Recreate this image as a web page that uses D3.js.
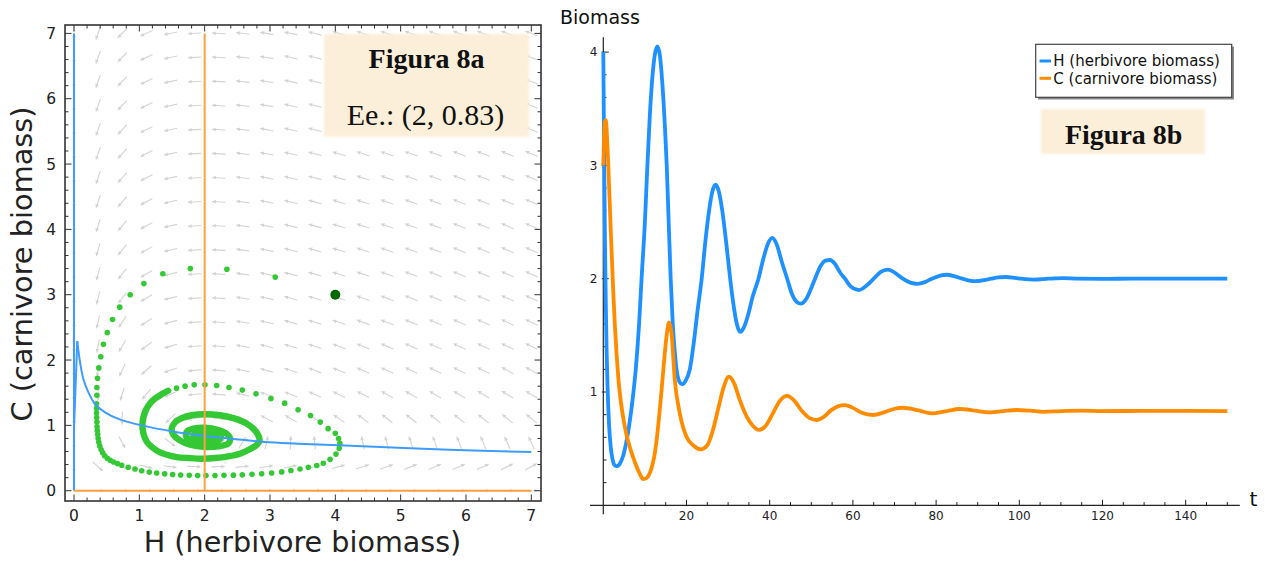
<!DOCTYPE html>
<html>
<head>
<meta charset="utf-8">
<script src="https://cdn.jsdelivr.net/npm/d3@7"></script>
<style>
  html, body { margin: 0; padding: 0; background: #fff; }
  svg { display: block; }
</style>
</head>
<body>
<svg id="fig" width="1265" height="561"></svg>
<script>
// ----------------------------------------------------------------------------
// Data
// ----------------------------------------------------------------------------

// Phase plane (Figura 8a)
const phaseTicks = [0, 1, 2, 3, 4, 5, 6, 7];

// Grid on which the direction field is sampled (same levels on both axes)
const fieldGrid = [0, 0.368, 0.737, 1.105, 1.474, 1.842, 2.211, 2.579, 2.947, 3.316,
                   3.684, 4.053, 4.421, 4.789, 5.158, 5.526, 5.895, 6.263, 6.632, 7];

// Arrow direction (degrees, counter-clockwise from +H) — one row per C level
const fieldAngles = [
  [null, 0, 0, 0, 0, 0, 0, 0, 0, 0, 0, 0, 0, 0, 0, 0, 0, 0, 0, 0],
  [-90, -42, -24, -14, -7, -2, 2, 6, 9, 11, 13, 16, 17, 19, 21, 23, 24, 25, 27, 28],
  [-90, -71, -62, -51, -38, -15, 23, 58, 78, 88, 95, 100, 103, 106, 108, 110, 111, 113, 114, 115],
  [-90, -86, -92, -106, -135, -169, 170, 159, 153, 149, 147, 145, 144, 143, 143, 142, 142, 142, 141, 141],
  [-90, -93, -107, -130, -155, -174, 174, 166, 162, 158, 156, 154, 153, 152, 151, 150, 150, 149, 149, 149],
  [-90, -98, -116, -139, -161, -175, 175, 169, 165, 162, 159, 158, 156, 155, 154, 154, 153, 153, 152, 152],
  [-90, -101, -121, -144, -163, -176, 176, 170, 166, 163, 161, 160, 158, 157, 156, 156, 155, 155, 154, 154],
  [-90, -103, -124, -147, -165, -176, 176, 171, 167, 164, 162, 161, 160, 159, 158, 157, 156, 156, 155, 155],
  [-90, -104, -127, -149, -166, -177, 176, 171, 168, 165, 163, 162, 160, 159, 158, 158, 157, 157, 156, 156],
  [-90, -105, -128, -150, -166, -177, 176, 172, 168, 166, 164, 162, 161, 160, 159, 158, 158, 157, 157, 156],
  [-90, -106, -130, -151, -167, -177, 177, 172, 169, 166, 164, 163, 161, 160, 160, 159, 158, 158, 157, 157],
  [-90, -107, -130, -152, -167, -177, 177, 172, 169, 166, 164, 163, 162, 161, 160, 159, 158, 158, 157, 157],
  [-90, -108, -131, -152, -167, -177, 177, 172, 169, 167, 165, 163, 162, 161, 160, 159, 159, 158, 158, 157],
  [-90, -108, -132, -153, -168, -177, 177, 172, 169, 167, 165, 163, 162, 161, 160, 160, 159, 159, 158, 158],
  [-90, -109, -133, -153, -168, -177, 177, 172, 169, 167, 165, 164, 162, 161, 161, 160, 159, 159, 158, 158],
  [-90, -109, -133, -154, -168, -177, 177, 173, 169, 167, 165, 164, 163, 162, 161, 160, 159, 159, 159, 158],
  [-90, -109, -134, -154, -168, -177, 177, 173, 170, 167, 165, 164, 163, 162, 161, 160, 160, 159, 159, 158],
  [-90, -110, -134, -154, -168, -177, 177, 173, 170, 167, 165, 164, 163, 162, 161, 160, 160, 159, 159, 159],
  [-90, -110, -134, -155, -168, -177, 177, 173, 170, 167, 166, 164, 163, 162, 161, 161, 160, 160, 159, 159],
  [-90, -110, -135, -155, -168, -177, 177, 173, 170, 168, 166, 164, 163, 162, 161, 161, 160, 160, 159, 159]
];

// Herbivore nullcline (dH/dt = 0), curved branch
const nullSpikeH = [0, 0.05];
const nullSpikeC = [0.95, 2.29];
const nullCurveH = [0.05, 0.092, 0.143, 0.219, 0.32, 0.475, 0.68, 1.036, 1.55, 2.0, 2.41, 2.92, 3.43, 4.05, 4.96, 5.98, 7.0];
const nullCurveC = [2.29, 1.97, 1.71, 1.51, 1.33, 1.20, 1.10, 1.0, 0.90, 0.837, 0.796, 0.745, 0.72, 0.695, 0.658, 0.618, 0.592];

// Carnivore nullclines: H = 2 and C = 0
const carnNullH = 2;
const axisMax = 7;

// Initial state of the trajectory
const startPoint = [4, 3];

// Trajectory samples where the dots are still apart (H, C)
const orbitDots = [
  [3.08, 3.27], [2.34, 3.39], [1.78, 3.40], [1.36, 3.32], [1.07, 3.17], [0.86, 3.00],
  [0.70, 2.81], [0.59, 2.62], [0.51, 2.42], [0.45, 2.24], [0.41, 2.05], [0.38, 1.88],
  [0.36, 1.72], [0.35, 1.58], [0.35, 1.46], [0.345, 1.33], [0.345, 1.26], [0.345, 1.19],
  [0.347, 1.12], [0.35, 1.05], [0.353, 0.98], [0.357, 0.92], [0.363, 0.86], [0.37, 0.80],
  [0.38, 0.74], [0.395, 0.685], [0.415, 0.63], [0.44, 0.58], [0.47, 0.535], [0.51, 0.495],
  [0.555, 0.465], [0.605, 0.44], [0.665, 0.415], [0.73, 0.39], [0.83, 0.36], [0.934, 0.332],
  [1.036, 0.305], [1.153, 0.285], [1.266, 0.27], [1.388, 0.258], [1.51, 0.248], [1.633, 0.24],
  [1.765, 0.235], [1.893, 0.232], [2.02, 0.232], [2.158, 0.233], [2.296, 0.235], [2.44, 0.238],
  [2.576, 0.243], [2.725, 0.25], [2.873, 0.26], [3.026, 0.272], [3.18, 0.288], [3.32, 0.31],
  [3.46, 0.333], [3.587, 0.358], [3.715, 0.385], [3.816, 0.42], [3.92, 0.48], [4.01, 0.56],
  [4.06, 0.65], [4.07, 0.725], [4.05, 0.80], [4.0, 0.88], [3.89, 0.95], [3.77, 1.05],
  [3.62, 1.15], [3.43, 1.24], [3.225, 1.34], [3.015, 1.41], [2.786, 1.485], [2.576, 1.54],
  [2.373, 1.58], [2.184, 1.61], [2.005, 1.62], [1.84, 1.62], [1.70, 1.60], [1.57, 1.57],
  [1.44, 1.53]
];

// Tightly packed part of the spiral, down to the equilibrium (H, C)
const orbitCore = [
  [1.44, 1.53], [1.34, 1.475], [1.24, 1.41], [1.16, 1.33], [1.11, 1.255], [1.07, 1.155],
  [1.05, 1.05], [1.05, 0.95], [1.07, 0.85], [1.11, 0.755], [1.19, 0.67], [1.29, 0.60],
  [1.42, 0.55], [1.57, 0.515], [1.75, 0.50], [1.955, 0.49], [2.16, 0.50], [2.36, 0.525],
  [2.54, 0.566], [2.69, 0.634], [2.80, 0.705], [2.84, 0.77], [2.82, 0.85], [2.745, 0.95],
  [2.62, 1.04], [2.44, 1.11], [2.235, 1.155], [2.005, 1.17], [1.80, 1.155], [1.65, 1.11],
  [1.55, 1.05], [1.495, 0.95], [1.52, 0.86], [1.62, 0.77], [1.775, 0.705], [2.005, 0.67],
  [2.21, 0.68], [2.36, 0.72], [2.39, 0.80], [2.34, 0.87], [2.21, 0.93], [2.005, 0.965],
  [1.83, 0.95], [1.725, 0.90], [1.725, 0.82], [1.83, 0.76], [2.005, 0.735], [2.18, 0.76],
  [2.25, 0.82], [2.18, 0.88], [2.0, 0.91], [1.85, 0.87], [1.83, 0.82], [1.9, 0.78],
  [2.03, 0.77], [2.15, 0.81], [2.12, 0.86], [2.0, 0.88], [1.9, 0.85], [1.9, 0.81],
  [2.0, 0.795], [2.08, 0.82], [2.05, 0.85], [1.97, 0.85], [1.95, 0.825], [2.0, 0.815],
  [2.03, 0.83], [2.0, 0.835]
];

// Time series (Figura 8b)
const herbT = [0, 0.2, 0.4, 0.6, 0.8, 1.0, 1.4, 1.8, 2.2, 2.6, 3.2, 4.0, 4.8, 5.5, 6.2, 7.0, 7.8,
  8.6, 9.2, 10.0, 10.6, 11.2, 11.8, 12.4, 13.0, 13.6, 14.2, 14.8, 15.25, 15.7, 16.2, 16.7, 17.2,
  17.6, 18.3, 19.0, 19.8, 20.8, 21.8, 22.7, 23.65, 24.6, 25.5, 26.3, 27.0, 27.7, 28.6, 29.6,
  30.5, 31.3, 32.1, 32.9, 33.8, 34.8, 35.9, 37.3, 38.5, 39.6, 40.6, 41.6, 42.9, 44.2, 45.4,
  46.5, 47.5, 48.6, 49.8, 50.9, 52.2, 53.4, 54.5, 55.7, 57.0, 58.1, 59.5, 61.5, 63.3, 65.0,
  66.7, 68.4, 70.2, 72.0, 73.8, 75.5, 77.3, 79.0, 81.0, 82.5, 84.5, 86.3, 88.0, 89.5, 91.5,
  93.2, 95.0, 96.8, 99.0, 100.5, 103.5, 107, 110.5, 114, 120, 127, 135, 150];
const herbH = [4.0, 3.08, 2.34, 1.78, 1.36, 1.07, 0.70, 0.51, 0.41, 0.36, 0.345, 0.37, 0.44,
  0.55, 0.7, 0.92, 1.2, 1.6, 2.0, 2.5, 3.0, 3.45, 3.78, 3.98, 4.05, 3.97, 3.72, 3.35, 3.0, 2.52,
  2.0, 1.6, 1.35, 1.2, 1.09, 1.068, 1.1, 1.2, 1.45, 1.73, 2.0, 2.35, 2.62, 2.78, 2.83, 2.78,
  2.6, 2.3, 2.0, 1.77, 1.6, 1.53, 1.57, 1.68, 1.84, 2.0, 2.18, 2.31, 2.36, 2.31, 2.15, 2.0,
  1.86, 1.795, 1.78, 1.81, 1.9, 2.0, 2.11, 2.16, 2.165, 2.13, 2.05, 2.0, 1.93, 1.90, 1.94,
  2.0, 2.06, 2.08, 2.05, 2.0, 1.965, 1.955, 1.97, 2.0, 2.028, 2.035, 2.02, 2.0, 1.983, 1.978,
  1.987, 2.0, 2.012, 2.015, 2.007, 2.0, 1.992, 2.0, 2.005, 2.0, 1.998, 2.001, 2.0, 2.0];

const carnT = [0, 0.2, 0.4, 0.6, 0.8, 1.0, 1.2, 1.4, 1.6, 1.8, 2.0, 2.4, 2.8, 3.2, 3.6, 4.0,
  4.5, 5.0, 5.6, 6.4, 7.2, 8.0, 8.8, 9.6, 10.4, 11.0, 11.6, 12.2, 12.8, 13.3, 13.8, 14.3, 14.8,
  15.3, 15.8, 16.4, 17.2, 18.4, 20.0, 21.6, 23.4, 25.0, 26.4, 27.8, 29.0, 30.2, 31.4, 32.8,
  34.5, 36.0, 37.4, 39.0, 40.6, 42.4, 44.2, 46.0, 47.8, 49.6, 51.3, 53.0, 54.8, 56.5, 58.1,
  60.0, 62.0, 64.9, 67.5, 69.8, 72.1, 75.5, 78.9, 82.3, 85.7, 89.3, 93.0, 96.2, 99.4, 102.6,
  105.8, 110, 115, 120, 130, 150];
const carnC = [3.0, 3.27, 3.39, 3.40, 3.32, 3.17, 3.0, 2.81, 2.62, 2.42, 2.24, 1.88, 1.58,
  1.33, 1.13, 0.98, 0.84, 0.73, 0.62, 0.51, 0.42, 0.34, 0.275, 0.232, 0.24, 0.27, 0.33, 0.42, 0.57,
  0.74, 0.93, 1.14, 1.35, 1.52, 1.615, 1.52, 1.1, 0.81, 0.605, 0.53, 0.494, 0.53, 0.67, 0.88,
  1.05, 1.135, 1.08, 0.93, 0.78, 0.70, 0.665, 0.70, 0.80, 0.92, 0.965, 0.92, 0.83, 0.77,
  0.753, 0.78, 0.84, 0.875, 0.885, 0.86, 0.82, 0.797, 0.82, 0.85, 0.861, 0.84, 0.812, 0.83,
  0.85, 0.835, 0.82, 0.832, 0.841, 0.835, 0.825, 0.832, 0.836, 0.832, 0.833, 0.832];

const timeTicks = [20, 40, 60, 80, 100, 120, 140];
const biomassTicks = [1, 2, 3, 4];
const legendLabels = ["H (herbivore biomass)", "C (carnivore biomass)"];

// ----------------------------------------------------------------------------
// Drawing
// ----------------------------------------------------------------------------
const svg = d3.select("#fig");
const FONT = "'DejaVu Sans', Verdana, sans-serif";
const SERIF = "'Liberation Serif', 'Times New Roman', serif";

const defs = svg.append("defs");
defs.append("filter").attr("id", "soft").attr("x", "-10%").attr("y", "-10%")
  .attr("width", "120%").attr("height", "120%")
  .append("feGaussianBlur").attr("stdDeviation", 1.6);

// ===================== Left panel: phase plane ==============================
const xP = d3.scaleLinear().domain([0, 7]).range([74, 531.3]);
const yP = d3.scaleLinear().domain([0, 7]).range([490.7, 33.4]);
const frame = { l: 65, r: 541, t: 25, b: 501 };

const left = svg.append("g");

// direction field
const L = 14, sw = 1.1, hw = 3.8, hl = 4.6, hal = 4.1;
const arrowShape = [
  [-L / 2, -sw / 2], [L / 2 - hal, -sw / 2], [L / 2 - hl, -hw / 2], [L / 2, 0],
  [L / 2 - hl, hw / 2], [L / 2 - hal, sw / 2], [-L / 2, sw / 2]
].map(p => p.join(",")).join(" ");

const fieldCells = [];
fieldAngles.forEach((row, j) => row.forEach((a, i) => {
  if (a !== null) fieldCells.push({ h: fieldGrid[i], c: fieldGrid[j], a });
}));
left.append("g").selectAll("polygon").data(fieldCells).join("polygon")
  .attr("points", arrowShape)
  .attr("transform", d => `translate(${xP(d.h)},${yP(d.c)}) rotate(${-d.a})`)
  .attr("fill", "#d3d3d3");

// trajectory
const green = "#34c934";
left.append("path")
  .datum(orbitCore)
  .attr("d", d3.line().x(d => xP(d[0])).y(d => yP(d[1])).curve(d3.curveCatmullRom))
  .attr("fill", "none").attr("stroke", green).attr("stroke-width", 6.4)
  .attr("stroke-linecap", "round").attr("stroke-linejoin", "round");
left.append("g").selectAll("circle").data(orbitDots).join("circle")
  .attr("cx", d => xP(d[0])).attr("cy", d => yP(d[1])).attr("r", 2.8)
  .attr("fill", green);

// nullclines
const blue = "#3f9cff", orange = "#ffa040";
left.append("line")
  .attr("x1", xP(0)).attr("x2", xP(0)).attr("y1", yP(0)).attr("y2", yP(axisMax))
  .attr("stroke", blue).attr("stroke-width", 2);
left.append("path")
  .datum(nullSpikeH.map((h, k) => [h, nullSpikeC[k]]))
  .attr("d", d3.line().x(d => xP(d[0])).y(d => yP(d[1])))
  .attr("fill", "none").attr("stroke", blue).attr("stroke-width", 2);
left.append("path")
  .datum(nullCurveH.map((h, k) => [h, nullCurveC[k]]))
  .attr("d", d3.line().x(d => xP(d[0])).y(d => yP(d[1])).curve(d3.curveCatmullRom))
  .attr("fill", "none").attr("stroke", blue).attr("stroke-width", 2);
left.append("line")
  .attr("x1", xP(carnNullH)).attr("x2", xP(carnNullH)).attr("y1", yP(0)).attr("y2", yP(axisMax))
  .attr("stroke", orange).attr("stroke-width", 2);
left.append("line")
  .attr("x1", xP(0)).attr("x2", xP(axisMax)).attr("y1", yP(0)).attr("y2", yP(0))
  .attr("stroke", orange).attr("stroke-width", 2);

// starting point
left.append("circle")
  .attr("cx", xP(startPoint[0])).attr("cy", yP(startPoint[1])).attr("r", 5)
  .attr("fill", "#006a00");

// frame with inward ticks on every side
const minorP = d3.range(0, 7.0001, 0.2);
const tickG = left.append("g").attr("stroke", "#333").attr("stroke-width", 1);
minorP.forEach(v => {
  const major = Math.abs(v - Math.round(v)) < 1e-6;
  const len = major ? 6.5 : 3.5;
  const x = xP(v), y = yP(v);
  tickG.append("line").attr("x1", x).attr("x2", x).attr("y1", frame.b).attr("y2", frame.b - len);
  tickG.append("line").attr("x1", x).attr("x2", x).attr("y1", frame.t).attr("y2", frame.t + len);
  tickG.append("line").attr("y1", y).attr("y2", y).attr("x1", frame.l).attr("x2", frame.l + len);
  tickG.append("line").attr("y1", y).attr("y2", y).attr("x1", frame.r).attr("x2", frame.r - len);
});
left.append("rect")
  .attr("x", frame.l).attr("y", frame.t)
  .attr("width", frame.r - frame.l).attr("height", frame.b - frame.t)
  .attr("fill", "none").attr("stroke", "#333").attr("stroke-width", 1.6);

left.append("g").selectAll("text").data(phaseTicks).join("text")
  .attr("x", d => xP(d)).attr("y", 521).attr("text-anchor", "middle")
  .attr("font-family", FONT).attr("font-size", 15.5).attr("fill", "#222").text(d => d);
left.append("g").selectAll("text").data(phaseTicks).join("text")
  .attr("x", 56).attr("y", d => yP(d)).attr("dy", "0.36em").attr("text-anchor", "end")
  .attr("font-family", FONT).attr("font-size", 15.5).attr("fill", "#222").text(d => d);

left.append("text")
  .attr("x", 302.5).attr("y", 551.5).attr("text-anchor", "middle")
  .attr("font-family", FONT).attr("font-size", 28.6).attr("fill", "#222")
  .text("H (herbivore biomass)");
left.append("text")
  .attr("transform", "translate(31.5,264) rotate(-90)").attr("text-anchor", "middle")
  .attr("font-family", FONT).attr("font-size", 28.8).attr("fill", "#222")
  .text("C (carnivore biomass)");

// caption card
left.append("rect")
  .attr("x", 324).attr("y", 34).attr("width", 205).attr("height", 103)
  .attr("fill", "#fbefd9").attr("filter", "url(#soft)");
left.append("text")
  .attr("x", 426.5).attr("y", 68).attr("text-anchor", "middle")
  .attr("font-family", SERIF).attr("font-weight", "bold").attr("font-size", 28)
  .attr("fill", "#111").text("Figura 8a");
left.append("text")
  .attr("x", 425.5).attr("y", 124.5).attr("text-anchor", "middle")
  .attr("font-family", SERIF).attr("font-size", 30)
  .attr("fill", "#111").text("Ee.: (2, 0.83)");

// ===================== Right panel: time series =============================
const xT = d3.scaleLinear().domain([0, 150]).range([603.3, 1227.3]);
const yT = d3.scaleLinear().domain([0, 4]).range([505.3, 52.1]);
const right = svg.append("g");

const axisColor = "#222";
right.append("line")
  .attr("x1", xT(-3.2)).attr("x2", xT(153)).attr("y1", yT(0)).attr("y2", yT(0))
  .attr("stroke", axisColor).attr("stroke-width", 1.2);
right.append("line")
  .attr("x1", xT(0)).attr("x2", xT(0)).attr("y1", yT(-0.08)).attr("y2", yT(4.13))
  .attr("stroke", axisColor).attr("stroke-width", 1.2);

const rt = right.append("g").attr("stroke", axisColor).attr("stroke-width", 1);
d3.range(5, 150.001, 5).forEach(v => {
  const major = v % 20 === 0;
  rt.append("line").attr("x1", xT(v)).attr("x2", xT(v))
    .attr("y1", yT(0)).attr("y2", yT(0) - (major ? 5.5 : 3.2));
});
d3.range(0.2, 4.0001, 0.2).forEach(v => {
  const major = Math.abs(v - Math.round(v)) < 1e-6;
  rt.append("line").attr("y1", yT(v)).attr("y2", yT(v))
    .attr("x1", xT(0) - (major ? 1.5 : 0)).attr("x2", xT(0) + (major ? 5.5 : 3.2));
});

right.append("g").selectAll("text").data(timeTicks).join("text")
  .attr("x", d => xT(d)).attr("y", 520).attr("text-anchor", "middle")
  .attr("font-family", FONT).attr("font-size", 12).attr("fill", "#222").text(d => d);
right.append("g").selectAll("text").data(biomassTicks).join("text")
  .attr("x", 597.5).attr("y", d => yT(d)).attr("dy", "0.36em").attr("text-anchor", "end")
  .attr("font-family", FONT).attr("font-size", 12).attr("fill", "#222").text(d => d);

right.append("text").attr("x", 560).attr("y", 24)
  .attr("font-family", FONT).attr("font-size", 19).attr("fill", "#111").text("Biomass");
right.append("text").attr("x", 1249.5).attr("y", 506)
  .attr("font-family", FONT).attr("font-size", 20).attr("fill", "#111").text("t");

const seriesLine = d3.line().x(d => xT(d[0])).y(d => yT(d[1])).curve(d3.curveMonotoneX);
const herbBlue = "#1e90ff", carnOrange = "#ff8c00";
right.append("path")
  .datum(herbT.map((t, k) => [t, herbH[k]]))
  .attr("d", seriesLine).attr("fill", "none")
  .attr("stroke", herbBlue).attr("stroke-width", 3.8).attr("stroke-linejoin", "round");
right.append("path")
  .datum(carnT.map((t, k) => [t, carnC[k]]))
  .attr("d", seriesLine).attr("fill", "none")
  .attr("stroke", carnOrange).attr("stroke-width", 3.8).attr("stroke-linejoin", "round");

// legend
const lg = right.append("g");
lg.append("rect").attr("x", 1038).attr("y", 46.5).attr("width", 196).attr("height", 53)
  .attr("fill", "#8a8a8a");
lg.append("rect").attr("x", 1035.7).attr("y", 44.3).attr("width", 196).attr("height", 53)
  .attr("fill", "#fff").attr("stroke", "#444").attr("stroke-width", 1.2);
[herbBlue, carnOrange].forEach((col, k) => {
  const y = 61 + k * 17.3;
  lg.append("line").attr("x1", 1039.5).attr("x2", 1051).attr("y1", y).attr("y2", y)
    .attr("stroke", col).attr("stroke-width", 3);
  lg.append("text").attr("x", 1053.3).attr("y", y + 5.2)
    .attr("font-family", FONT).attr("font-size", 15).attr("fill", "#111")
    .text(legendLabels[k]);
});

// caption card
right.append("rect")
  .attr("x", 1041).attr("y", 109).attr("width", 164).attr("height", 45)
  .attr("fill", "#fbefd9").attr("filter", "url(#soft)");
right.append("text")
  .attr("x", 1123.7).attr("y", 143.5).attr("text-anchor", "middle")
  .attr("font-family", SERIF).attr("font-weight", "bold").attr("font-size", 28)
  .attr("fill", "#111").text("Figura 8b");
</script>
</body>
</html>
